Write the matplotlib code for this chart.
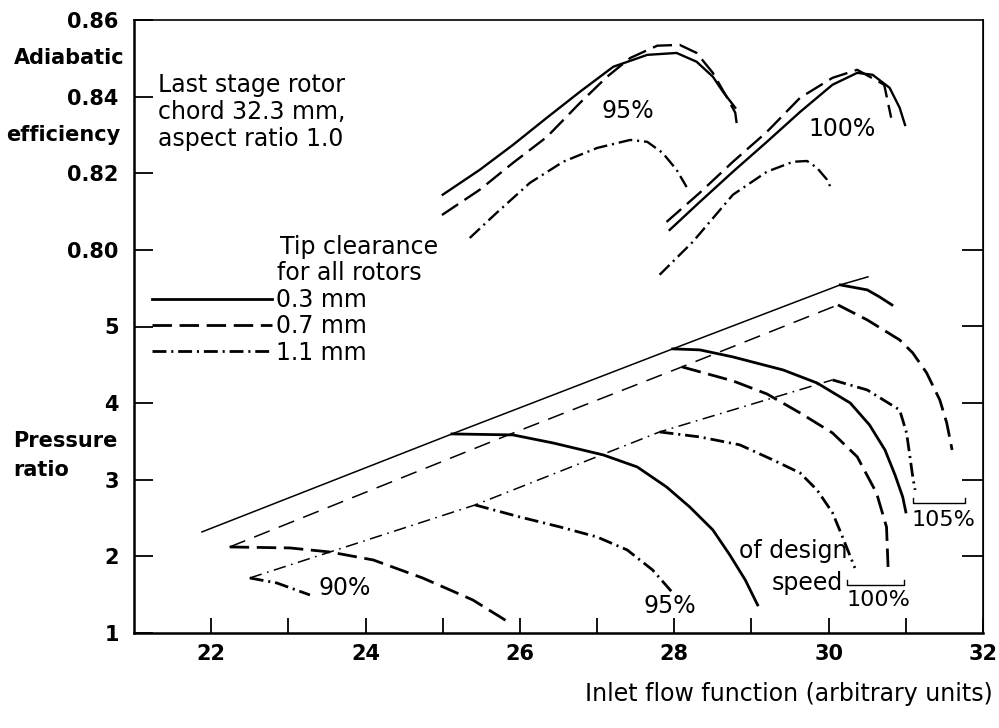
import matplotlib
matplotlib.use("Agg")
import matplotlib.pyplot as plt
from matplotlib.lines import Line2D

plt.rcParams["font.family"] = "DejaVu Sans"
plt.rcParams["lines.scale_dashes"] = False

# ---------- efficiency characteristics (flow, adiabatic efficiency) ----------
flow_eff95_03 = [25.00, 25.48, 25.91, 26.35, 26.78, 27.21, 27.65, 28.03, 28.29, 28.50, 28.63, 28.79]
eff95_03 = [0.8144, 0.8209, 0.8274, 0.8345, 0.8413, 0.8478, 0.8509, 0.8514, 0.8491, 0.8452, 0.8413, 0.8371]
flow_eff95_07 = [24.99, 25.48, 25.91, 26.35, 26.78, 27.13, 27.43, 27.78, 28.07, 28.29, 28.50, 28.68, 28.79, 28.82]
eff95_07 = [0.8091, 0.8157, 0.8227, 0.8295, 0.8384, 0.8452, 0.8501, 0.8533, 0.8535, 0.8514, 0.8462, 0.8399, 0.8358, 0.8313]
flow_eff95_11 = [25.35, 25.70, 26.13, 26.56, 27.00, 27.43, 27.65, 27.85, 28.03, 28.16]
eff95_11 = [0.8031, 0.8097, 0.8175, 0.8230, 0.8266, 0.8287, 0.8282, 0.8253, 0.8209, 0.8164]

flow_eff100_03 = [27.94, 28.33, 28.76, 29.20, 29.63, 30.05, 30.37, 30.57, 30.79, 30.92, 30.99]
eff100_03 = [0.8052, 0.8125, 0.8204, 0.8282, 0.8360, 0.8431, 0.8462, 0.8457, 0.8423, 0.8371, 0.8326]
flow_eff100_07 = [27.90, 28.33, 28.76, 29.20, 29.63, 30.05, 30.37, 30.72, 30.81]
eff100_07 = [0.8073, 0.8149, 0.8230, 0.8308, 0.8397, 0.8449, 0.8470, 0.8431, 0.8345]
flow_eff100_11 = [27.81, 28.24, 28.76, 29.20, 29.54, 29.72, 29.85, 29.98, 30.04]
eff100_11 = [0.7935, 0.8021, 0.8144, 0.8204, 0.8230, 0.8232, 0.8214, 0.8183, 0.8157]

# ---------- surge lines (flow, pressure ratio) ----------
flow_surge_03 = [21.88, 25.12, 27.98, 30.15, 30.51]
pr_surge_03 = [2.319, 3.598, 4.708, 5.543, 5.648]
flow_surge_07 = [22.24, 25.85, 28.10, 30.12]
pr_surge_07 = [2.123, 3.585, 4.473, 5.282]
flow_surge_11 = [22.50, 25.42, 27.81, 30.05]
pr_surge_11 = [1.718, 2.671, 3.624, 4.303]

# ---------- speed lines (flow, pressure ratio) ----------
flow_pr90_07 = [22.24, 23.02, 23.54, 24.10, 24.74, 25.39, 25.87]
pr90_07 = [2.123, 2.110, 2.057, 1.953, 1.718, 1.431, 1.131]
flow_pr90_11 = [22.50, 22.85, 23.28]
pr90_11 = [1.718, 1.653, 1.496]

flow_pr95_03 = [25.12, 25.91, 26.43, 27.08, 27.52, 27.90, 28.20, 28.50, 28.72, 28.92, 29.08]
pr95_03 = [3.598, 3.585, 3.480, 3.324, 3.167, 2.906, 2.645, 2.345, 2.018, 1.692, 1.366]
flow_pr95_11 = [25.42, 26.00, 26.52, 27.00, 27.39, 27.72, 27.97]
pr95_11 = [2.671, 2.514, 2.384, 2.253, 2.084, 1.822, 1.535]

flow_pr100_03 = [27.98, 28.33, 28.76, 29.41, 29.85, 30.28, 30.53, 30.73, 30.86, 30.96, 31.00]
pr100_03 = [4.708, 4.695, 4.603, 4.433, 4.263, 4.002, 3.715, 3.389, 3.063, 2.775, 2.580]
flow_pr100_07 = [28.10, 28.76, 29.20, 29.63, 30.05, 30.37, 30.62, 30.75, 30.77]
pr100_07 = [4.473, 4.290, 4.120, 3.872, 3.611, 3.300, 2.828, 2.384, 1.862]
flow_pr100_11 = [27.81, 28.33, 28.85, 29.28, 29.63, 29.85, 30.05, 30.18, 30.34]
pr100_11 = [3.624, 3.559, 3.455, 3.258, 3.089, 2.867, 2.570, 2.253, 1.849]

flow_pr105_03 = [30.15, 30.50, 30.66, 30.82]
pr105_03 = [5.543, 5.478, 5.386, 5.282]
flow_pr105_07 = [30.12, 30.50, 30.92, 31.09, 31.27, 31.44, 31.53, 31.60]
pr105_07 = [5.282, 5.086, 4.825, 4.655, 4.394, 4.042, 3.742, 3.389]
flow_pr105_11 = [30.05, 30.50, 30.92, 31.01, 31.09, 31.12]
pr105_11 = [4.303, 4.172, 3.911, 3.611, 3.037, 2.867]

clearance_labels = ["0.3 mm", "0.7 mm", "1.1 mm"]
pr_ticks = [1, 2, 3, 4, 5]
eff_ticks = [0.80, 0.82, 0.84, 0.86]


def eff_to_y(e):
    # efficiency band sits above the pressure-ratio band on a shared axis
    return 6 + (e - 0.80) / 0.02


SOLID = "-"
DASHED = (0, (14, 5.5))
DASHDOT = (0, (10, 3.5, 1.5, 3.5))
THIN_DASHED = (0, (12, 7))
THIN_DASHDOT = (0, (9, 4, 1.2, 4))
styles = [SOLID, DASHED, DASHDOT]
thin_styles = [SOLID, THIN_DASHED, THIN_DASHDOT]

fig = plt.figure(figsize=(9.99, 7.28), dpi=100)
ax = fig.add_axes([134 / 999, 1 - 633 / 728, 849 / 999, 613 / 728])

# efficiency curves
eff_curves = [
    (flow_eff95_03, eff95_03, 0), (flow_eff95_07, eff95_07, 1), (flow_eff95_11, eff95_11, 2),
    (flow_eff100_03, eff100_03, 0), (flow_eff100_07, eff100_07, 1), (flow_eff100_11, eff100_11, 2),
]
for fx, fe, k in eff_curves:
    ax.plot(fx, [eff_to_y(e) for e in fe], color="black", lw=1.7, linestyle=styles[k],
            solid_joinstyle="round")

# surge lines
for fx, fp, k in [(flow_surge_03, pr_surge_03, 0), (flow_surge_07, pr_surge_07, 1),
                  (flow_surge_11, pr_surge_11, 2)]:
    ax.plot(fx, fp, color="black", lw=1.1, linestyle=thin_styles[k])

# constant speed lines
speed_curves = [
    (flow_pr90_07, pr90_07, 1), (flow_pr90_11, pr90_11, 2),
    (flow_pr95_03, pr95_03, 0), (flow_pr95_11, pr95_11, 2),
    (flow_pr100_03, pr100_03, 0), (flow_pr100_07, pr100_07, 1), (flow_pr100_11, pr100_11, 2),
    (flow_pr105_03, pr105_03, 0), (flow_pr105_07, pr105_07, 1), (flow_pr105_11, pr105_11, 2),
]
for fx, fp, k in speed_curves:
    ax.plot(fx, fp, color="black", lw=2.0, linestyle=styles[k], solid_joinstyle="round")

# ---------- axes ----------
ax.set_xlim(21, 32)
ax.set_ylim(1, 9)
yticks = pr_ticks + [eff_to_y(e) for e in eff_ticks]
ylabels = [str(p) for p in pr_ticks] + [f"{e:.2f}" for e in eff_ticks]
ax.set_yticks(yticks)
ax.set_yticklabels(ylabels, fontsize=15, fontweight="bold")
ax.set_xticks(range(22, 33))
ax.set_xticklabels([str(v) if v % 2 == 0 else "" for v in range(22, 33)],
                   fontsize=15, fontweight="bold")
ax.tick_params(axis="y", direction="in", length=14, width=1.3, pad=11)
ax.tick_params(axis="x", direction="in", length=11, width=1.3, pad=8)
for side in ["left", "bottom"]:
    ax.spines[side].set_linewidth(1.8)
for side in ["top", "right"]:
    ax.spines[side].set_linewidth(1.2)

right = ax.secondary_yaxis("right")
right.set_yticks([2, 3, 4, 5, 6])
right.set_yticklabels([])
right.tick_params(direction="in", length=15, width=1.3)

# ---------- legend ----------
handles = [Line2D([], [], color="black", lw=2.0, linestyle=s) for s in styles]
ax.legend(handles, clearance_labels, loc="upper left", bbox_to_anchor=(0.0212, 0.5628),
          frameon=False, fontsize=17, handlelength=5.1, handletextpad=0.15,
          labelspacing=0.1, borderpad=0, borderaxespad=0)
ax.text(0.172, 0.629, "Tip clearance", transform=ax.transAxes, fontsize=17, va="center")
ax.text(0.169, 0.588, "for all rotors", transform=ax.transAxes, fontsize=17, va="center")

# ---------- annotations ----------
note_lines = ["Last stage rotor", "chord 32.3 mm,", "aspect ratio 1.0"]
for i, line in enumerate(note_lines):
    ax.text(0.028, 0.894 - i * 0.044, line, transform=ax.transAxes, fontsize=17, va="center")

ax.text(27.40, 7.815, "95%", fontsize=17, ha="center", va="center")
ax.text(30.17, 7.580, "100%", fontsize=17, ha="center", va="center")
ax.text(23.73, 1.587, "90%", fontsize=17, ha="center", va="center")
ax.text(27.94, 1.352, "95%", fontsize=17, ha="center", va="center")
ax.text(28.84, 2.070, "of design", fontsize=17, ha="left", va="center")
ax.text(29.26, 1.653, "speed", fontsize=17, ha="left", va="center")
ax.text(30.65, 1.431, "100%", fontsize=16, ha="center", va="center")
ax.text(31.49, 2.475, "105%", fontsize=16, ha="center", va="center")

# brackets under the speed labels
ax.plot([30.24, 30.24, 30.97, 30.97], [1.69, 1.627, 1.627, 1.69], color="black", lw=1.0)
ax.plot([31.09, 31.09, 31.77, 31.77], [2.76, 2.697, 2.697, 2.76], color="black", lw=1.0)

# ---------- axis titles ----------
fig.text(125 / 999, 1 - 58 / 728, "Adiabatic", fontsize=15, fontweight="bold", ha="right", va="center")
fig.text(120 / 999, 1 - 135 / 728, "efficiency", fontsize=15, fontweight="bold", ha="right", va="center")
fig.text(13 / 999, 1 - 441 / 728, "Pressure", fontsize=15, fontweight="bold", ha="left", va="center")
fig.text(13 / 999, 1 - 470 / 728, "ratio", fontsize=15, fontweight="bold", ha="left", va="center")
fig.text(993 / 999, 1 - 694 / 728, "Inlet flow function (arbitrary units)", fontsize=17,
         ha="right", va="center")

fig.savefig("out.png", dpi=100)
